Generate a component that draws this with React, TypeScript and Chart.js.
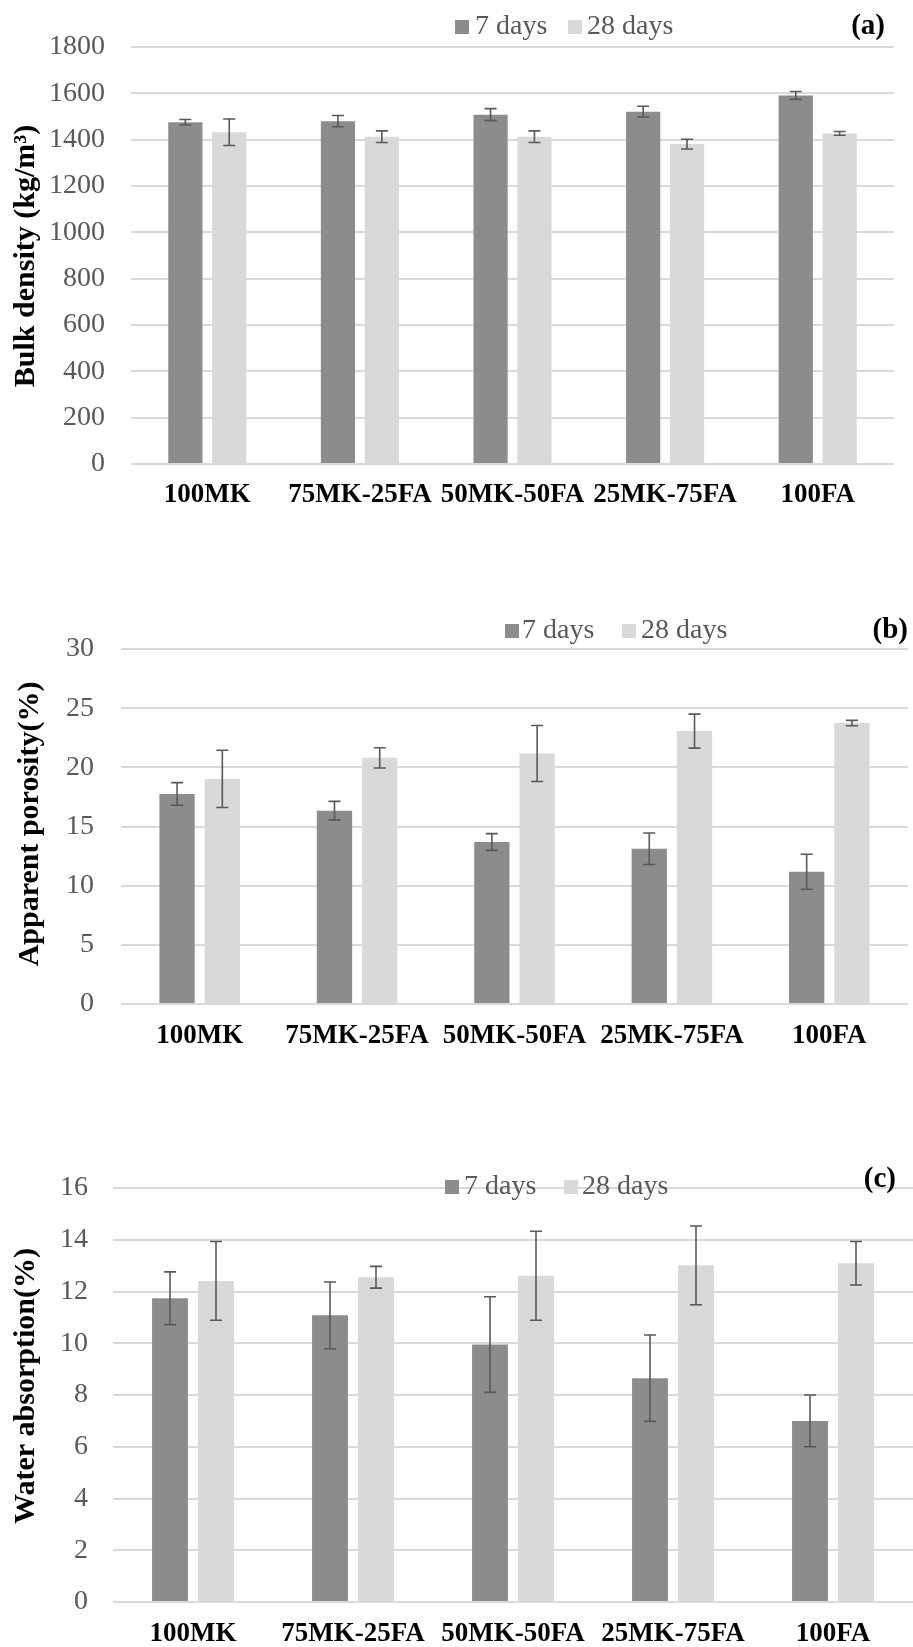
import React, { useEffect, useRef } from "react";
import { Chart, registerables } from "chart.js";

Chart.register(...registerables);

// ---------- data ----------
const categories = ["100MK", "75MK-25FA", "50MK-50FA", "25MK-75FA", "100FA"];
const seriesNames = ["7 days", "28 days"];

const densityDay7 = [1475, 1480, 1508, 1521, 1591];
const densityDay7Err = [12, 24, 26, 23, 17];
const densityDay28 = [1432, 1413, 1413, 1381, 1427];
const densityDay28Err = [57, 25, 25, 21, 8];

const porosityDay7 = [17.75, 16.34, 13.69, 13.12, 11.18];
const porosityDay7Err = [0.96, 0.78, 0.71, 1.33, 1.48];
const porosityDay28 = [19.02, 20.8, 21.17, 23.06, 23.74];
const porosityDay28Err = [2.42, 0.85, 2.37, 1.44, 0.23];

const absorptionDay7 = [11.74, 11.08, 9.95, 8.65, 7.0];
const absorptionDay7Err = [1.02, 1.29, 1.85, 1.67, 1.0];
const absorptionDay28 = [12.41, 12.55, 12.61, 13.01, 13.09];
const absorptionDay28Err = [1.52, 0.42, 1.72, 1.52, 0.84];

const densityAxis = { max: 1800, step: 200 };
const porosityAxis = { max: 30, step: 5 };
const absorptionAxis = { max: 16, step: 2 };

const titles = ["Bulk density (kg/m\u00B3)", "Apparent porosity(%)", "Water absorption(%)"];
const panelLabels = ["(a)", "(b)", "(c)"];

// ---------- styles ----------
const FONT = "'Liberation Serif', 'Times New Roman', serif";
const COLOR_7 = "#8c8c8c";
const COLOR_28 = "#d9d9d9";
const TEXT_GRAY = "#595959";
const W = 913;

type Panel = {
  top: number;
  height: number;
  area: { left: number; right: number; top: number; bottom: number };
  v7: number[];
  e7: number[];
  v28: number[];
  e28: number[];
  axis: { max: number; step: number };
  title: string;
  titlePos: { x: number; y: number };
  label: string;
  labelPos: { x: number; y: number };
  legendY: number;
  legendBoxes: number[];
  legendTexts: number[];
  yPad: number;
  xPad: number;
};

const panels: Panel[] = [
  {
    top: 0,
    height: 520,
    area: { left: 131, right: 894, top: 47, bottom: 464 },
    v7: densityDay7, e7: densityDay7Err, v28: densityDay28, e28: densityDay28Err,
    axis: densityAxis,
    title: titles[0],
    titlePos: { x: 26, y: 256 },
    label: panelLabels[0],
    labelPos: { x: 885, y: 27 },
    legendY: 27,
    legendBoxes: [455, 568],
    legendTexts: [475, 587],
    yPad: 26,
    xPad: 15,
  },
  {
    top: 560,
    height: 520,
    area: { left: 121, right: 908, top: 89, bottom: 444 },
    v7: porosityDay7, e7: porosityDay7Err, v28: porosityDay28, e28: porosityDay28Err,
    axis: porosityAxis,
    title: titles[1],
    titlePos: { x: 30, y: 264 },
    label: panelLabels[1],
    labelPos: { x: 908, y: 71 },
    legendY: 71,
    legendBoxes: [505, 622],
    legendTexts: [522, 641],
    yPad: 27,
    xPad: 16,
  },
  {
    top: 1130,
    height: 517,
    area: { left: 113, right: 913, top: 58, bottom: 472 },
    v7: absorptionDay7, e7: absorptionDay7Err, v28: absorptionDay28, e28: absorptionDay28Err,
    axis: absorptionAxis,
    title: titles[2],
    titlePos: { x: 26, y: 256 },
    label: panelLabels[2],
    labelPos: { x: 896, y: 50 },
    legendY: 57,
    legendBoxes: [445, 564],
    legendTexts: [464, 582],
    yPad: 25,
    xPad: 16,
  },
];

const errorBarPlugin = {
  id: "errorBars",
  afterDatasetsDraw(chart: any) {
    const ctx = chart.ctx;
    const yScale = chart.scales.y;
    ctx.save();
    ctx.strokeStyle = TEXT_GRAY;
    ctx.lineWidth = 1.6;
    chart.data.datasets.forEach((ds: any, i: number) => {
      const meta = chart.getDatasetMeta(i);
      meta.data.forEach((bar: any, j: number) => {
        const v = ds.data[j];
        const e = ds.errors[j];
        const yT = yScale.getPixelForValue(v + e);
        const yB = yScale.getPixelForValue(v - e);
        const x = bar.x;
        ctx.beginPath();
        ctx.moveTo(x, yT);
        ctx.lineTo(x, yB);
        ctx.moveTo(x - 6, yT);
        ctx.lineTo(x + 6, yT);
        ctx.moveTo(x - 6, yB);
        ctx.lineTo(x + 6, yB);
        ctx.stroke();
      });
    });
    ctx.restore();
  },
};

function makeDecorPlugin(p: Panel) {
  return {
    id: "decor",
    afterDraw(chart: any) {
      const ctx = chart.ctx;
      ctx.save();
      // legend
      const colors = [COLOR_7, COLOR_28];
      ctx.font = `28px ${FONT}`;
      ctx.textBaseline = "middle";
      ctx.textAlign = "left";
      seriesNames.forEach((name, i) => {
        ctx.fillStyle = colors[i];
        ctx.fillRect(p.legendBoxes[i], p.legendY - 7, 14, 14);
        ctx.fillStyle = TEXT_GRAY;
        ctx.fillText(name, p.legendTexts[i], p.legendY);
      });
      // panel label
      ctx.font = `bold 29px ${FONT}`;
      ctx.fillStyle = "#000";
      ctx.textAlign = "right";
      ctx.fillText(p.label, p.labelPos.x, p.labelPos.y);
      // y title
      ctx.translate(p.titlePos.x, p.titlePos.y);
      ctx.rotate(-Math.PI / 2);
      ctx.textAlign = "center";
      ctx.font = `bold 30px ${FONT}`;
      ctx.fillText(p.title, 0, 0);
      ctx.restore();
    },
  };
}

function PanelChart({ p }: { p: Panel }) {
  const ref = useRef<HTMLCanvasElement>(null);
  useEffect(() => {
    if (!ref.current) return;
    const H = p.height;
    const chart = new Chart(ref.current, {
      type: "bar",
      data: {
        labels: categories,
        datasets: [
          {
            label: seriesNames[0],
            data: p.v7,
            errors: p.e7,
            backgroundColor: COLOR_7,
            categoryPercentage: 0.575,
            barPercentage: 0.78,
          } as any,
          {
            label: seriesNames[1],
            data: p.v28,
            errors: p.e28,
            backgroundColor: COLOR_28,
            categoryPercentage: 0.575,
            barPercentage: 0.78,
          } as any,
        ],
      },
      options: {
        responsive: false,
        animation: false,
        layout: {
          padding: { top: p.area.top, right: W - p.area.right, bottom: 0, left: 0 },
        },
        plugins: {
          legend: { display: false },
          tooltip: { enabled: false },
          title: { display: false },
        },
        scales: {
          x: {
            grid: { display: false, drawTicks: false },
            border: { display: false },
            ticks: {
              color: "#000",
              font: { family: FONT, size: 27, weight: "bold" },
              padding: p.xPad,
              autoSkip: false,
              maxRotation: 0,
            },
            afterFit: (s: any) => {
              s.height = H - p.area.bottom;
            },
          },
          y: {
            min: 0,
            max: p.axis.max,
            ticks: {
              stepSize: p.axis.step,
              color: TEXT_GRAY,
              font: { family: FONT, size: 28 },
              padding: p.yPad,
              callback: (v: any) => String(v),
            },
            grid: { color: "#d9d9d9", lineWidth: 2, drawTicks: false },
            border: { display: false },
            afterFit: (s: any) => {
              s.width = p.area.left;
            },
          },
        },
      } as any,
      plugins: [errorBarPlugin, makeDecorPlugin(p)],
    });
    return () => chart.destroy();
  }, [p]);
  return (
    <canvas
      ref={ref}
      width={W}
      height={p.height}
      style={{ position: "absolute", left: 0, top: p.top, width: W, height: p.height }}
    />
  );
}

export default function App() {
  return (
    <div style={{ position: "absolute", left: 0, top: 0, width: W, height: 1647, background: "#fff" }}>
      {panels.map((p, i) => (
        <PanelChart key={i} p={p} />
      ))}
    </div>
  );
}
